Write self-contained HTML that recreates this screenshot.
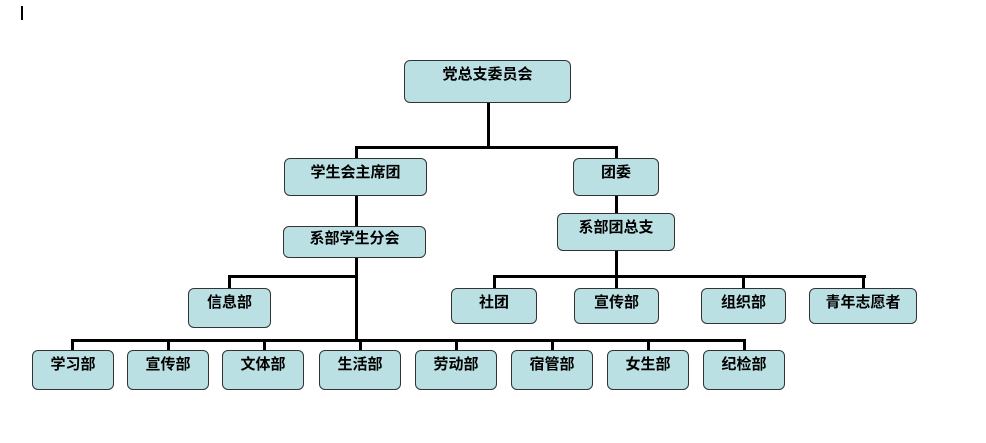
<!DOCTYPE html>
<html><head><meta charset="utf-8"><style>
body{margin:0;width:986px;height:443px;background:#fff;position:relative;overflow:hidden;font-family:"Liberation Sans","Noto Sans CJK SC","WenQuanYi Zen Hei",sans-serif}
.b{position:absolute;box-sizing:border-box;background:#bbe0e3;border:1px solid #333;border-radius:6px;text-align:center;font-size:15px;font-weight:bold;color:#000;padding-top:5px;line-height:18px}
.l{position:absolute;background:#000}
</style></head><body>
<div class="l" style="left:21px;top:6px;width:2px;height:14px"></div>
<!-- connectors -->
<div class="l" style="left:487px;top:102px;width:3px;height:46px"></div>
<div class="l" style="left:355px;top:146px;width:263px;height:3px"></div>
<div class="l" style="left:355px;top:146px;width:3px;height:14px"></div>
<div class="l" style="left:615px;top:146px;width:3px;height:14px"></div>
<div class="l" style="left:355px;top:195px;width:3px;height:146px"></div>
<div class="l" style="left:228px;top:275px;width:130px;height:3px"></div>
<div class="l" style="left:228px;top:275px;width:3px;height:14px"></div>
<div class="l" style="left:71px;top:339px;width:675px;height:3px"></div>
<div class="l" style="left:71px;top:339px;width:3px;height:12px"></div>
<div class="l" style="left:167px;top:339px;width:3px;height:12px"></div>
<div class="l" style="left:263px;top:339px;width:3px;height:12px"></div>
<div class="l" style="left:359px;top:339px;width:3px;height:12px"></div>
<div class="l" style="left:455px;top:339px;width:3px;height:12px"></div>
<div class="l" style="left:551px;top:339px;width:3px;height:12px"></div>
<div class="l" style="left:647px;top:339px;width:3px;height:12px"></div>
<div class="l" style="left:743px;top:339px;width:3px;height:12px"></div>
<div class="l" style="left:615px;top:195px;width:3px;height:82px"></div>
<div class="l" style="left:493px;top:275px;width:373px;height:3px"></div>
<div class="l" style="left:493px;top:275px;width:3px;height:14px"></div>
<div class="l" style="left:615px;top:275px;width:3px;height:14px"></div>
<div class="l" style="left:742px;top:275px;width:3px;height:14px"></div>
<div class="l" style="left:862px;top:275px;width:3px;height:14px"></div>
<!-- boxes -->
<div class="b" style="left:404px;top:60px;width:167px;height:43px">党总支委员会</div>
<div class="b" style="left:284px;top:158px;width:143px;height:38px">学生会主席团</div>
<div class="b" style="left:573px;top:158px;width:86px;height:38px">团委</div>
<div class="b" style="left:283px;top:226px;width:143px;height:32px;padding-top:3px">系部学生分会</div>
<div class="b" style="left:557px;top:213px;width:118px;height:38px">系部团总支</div>
<div class="b" style="left:188px;top:288px;width:83px;height:40px">信息部</div>
<div class="b" style="left:451px;top:288px;width:86px;height:36px">社团</div>
<div class="b" style="left:574px;top:288px;width:85px;height:36px">宣传部</div>
<div class="b" style="left:701px;top:288px;width:85px;height:36px">组织部</div>
<div class="b" style="left:809px;top:288px;width:108px;height:36px">青年志愿者</div>
<div class="b" style="left:32px;top:350px;width:82px;height:40px">学习部</div>
<div class="b" style="left:127px;top:350px;width:82px;height:40px">宣传部</div>
<div class="b" style="left:222px;top:350px;width:82px;height:40px">文体部</div>
<div class="b" style="left:319px;top:350px;width:82px;height:40px">生活部</div>
<div class="b" style="left:415px;top:350px;width:82px;height:40px">劳动部</div>
<div class="b" style="left:511px;top:350px;width:82px;height:40px">宿管部</div>
<div class="b" style="left:607px;top:350px;width:82px;height:40px">女生部</div>
<div class="b" style="left:703px;top:350px;width:82px;height:40px">纪检部</div>
</body></html>
